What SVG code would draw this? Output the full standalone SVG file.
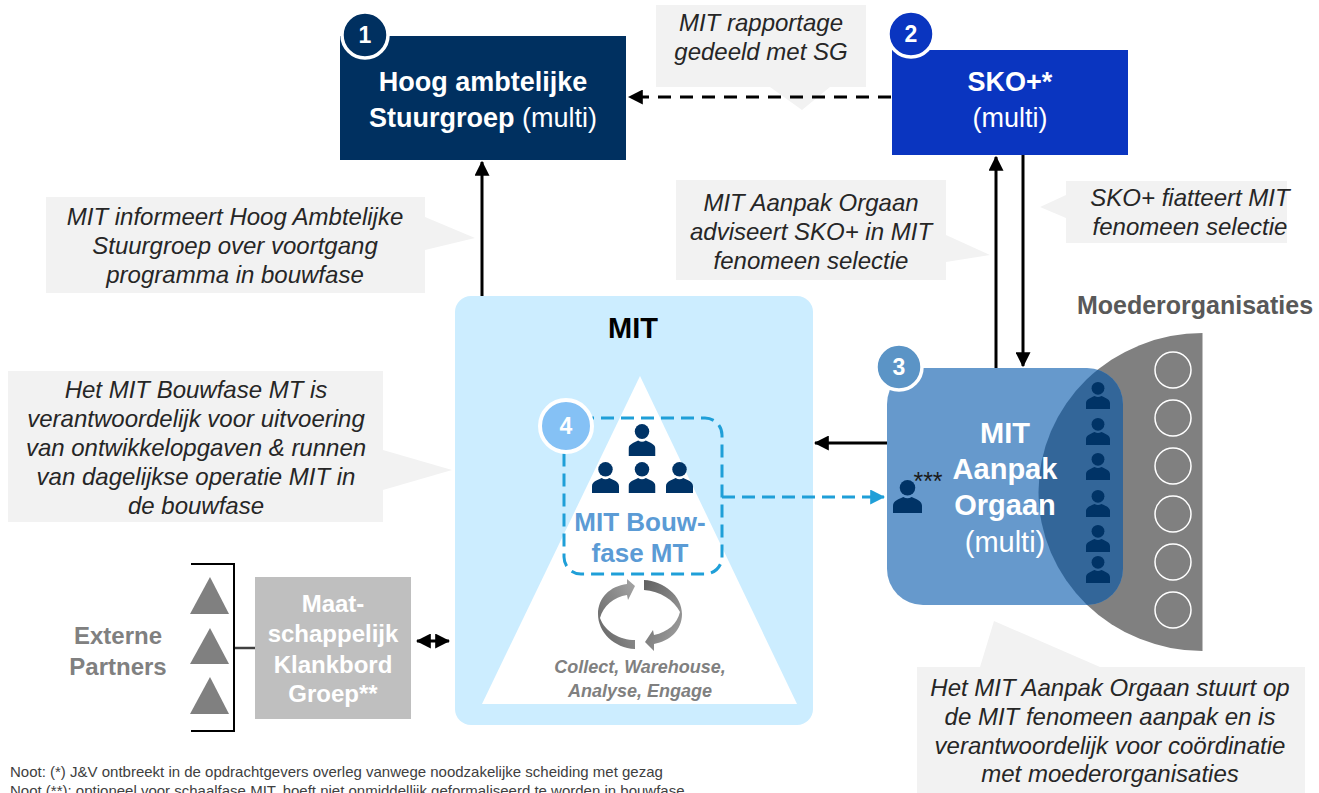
<svg xmlns="http://www.w3.org/2000/svg" xmlns:xlink="http://www.w3.org/1999/xlink" width="1319" height="793" viewBox="0 0 1319 793">
<style>
text{font-family:"Liberation Sans",Arial,sans-serif;text-anchor:middle}
.c{fill:#f2f2f2}
.ct{font-size:24px;font-style:italic;fill:#262626}
.w{fill:#fff;font-size:27px}
.b{font-weight:bold}
.ln{fill:none;stroke:#000;stroke-width:3}
.badge{stroke:#fff;stroke-width:3.5}
.bt{fill:#fff;font-size:23px;font-weight:bold}
.wc{fill:none;stroke:#fff;stroke-width:1.5}
.note{font-size:15px;fill:#404040;text-anchor:start}
.tri{fill:#808080}
</style>
<defs>
<marker id="ah" markerWidth="5" markerHeight="5" refX="4.6" refY="2.5" orient="auto" markerUnits="strokeWidth"><path d="M0 0L5 2.5L0 5z" fill="#000"/></marker>
<marker id="as" markerWidth="5" markerHeight="5" refX="0.4" refY="2.5" orient="auto" markerUnits="strokeWidth"><path d="M5 0L0 2.5L5 5z" fill="#000"/></marker>
<marker id="ab" markerWidth="5" markerHeight="5" refX="4.6" refY="2.5" orient="auto" markerUnits="strokeWidth"><path d="M0 0L5 2.5L0 5z" fill="#1f9fd8"/></marker>
<symbol id="p" viewBox="0 0 28 32" preserveAspectRatio="none"><circle cx="14" cy="7.5" r="7.5" fill="#003366"/><path d="M0 32V25C0 20 6 18.500 10 16.500Q14 19 18 16.500C22 18.500 28 20 28 25V32z" fill="#003366"/></symbol>
<clipPath id="ov"><rect x="887" y="368" width="236" height="237" rx="36"/></clipPath>
<linearGradient id="g1" x1="0" y1="1" x2="1" y2="0"><stop offset="0" stop-color="#606060"/><stop offset="1" stop-color="#a6a6a6"/></linearGradient>
<linearGradient id="g2" x1="0" y1="0" x2="1" y2="1"><stop offset="0" stop-color="#606060"/><stop offset="1" stop-color="#a6a6a6"/></linearGradient>
</defs>
<rect width="1319" height="793" fill="#fff"/>

<g id="callouts">
<path class="c" d="M656 5H866V87H830L802 110L770 87H656z"/>
<text class="ct" x="761" y="31">MIT rapportage</text><text class="ct" x="761" y="60">gedeeld met SG</text>
<path class="c" d="M46 197H425V217L475 238L425 250V293H46z"/>
<text class="ct" x="235" y="225">MIT informeert Hoog Ambtelijke</text><text class="ct" x="235" y="254">Stuurgroep over voortgang</text><text class="ct" x="235" y="283">programma in bouwfase</text>
<path class="c" d="M676 180H946V235L990 255L946 262V280H676z"/>
<text class="ct" x="811" y="211">MIT Aanpak Orgaan</text><text class="ct" x="811" y="240">adviseert SKO+ in MIT</text><text class="ct" x="811" y="269">fenomeen selectie</text>
<path class="c" d="M1066 181H1287V243H1066V218L1040 207L1066 195z"/>
<text class="ct" x="1190" y="206">SKO+ fiatteert MIT</text><text class="ct" x="1190" y="235">fenomeen selectie</text>
<path class="c" d="M8 371H383V450L452 470L383 490V522H8z"/>
<text class="ct" x="196" y="398">Het MIT Bouwfase MT is</text><text class="ct" x="196" y="427">verantwoordelijk voor uitvoering</text><text class="ct" x="196" y="456">van ontwikkelopgaven &amp; runnen</text><text class="ct" x="196" y="485">van dagelijkse operatie MIT in</text><text class="ct" x="196" y="514">de bouwfase</text>
<path class="c" d="M917 667H980L994 621L1100 667H1305V793H917z"/>
<text class="ct" x="1110" y="696">Het MIT Aanpak Orgaan stuurt op</text><text class="ct" x="1110" y="725">de MIT fenomeen aanpak en is</text><text class="ct" x="1110" y="754">verantwoordelijk voor coördinatie</text><text class="ct" x="1110" y="782">met moederorganisaties</text>
</g>

<g id="node-stuurgroep">
<rect x="340" y="36" width="286" height="124" fill="#003060"/>
<text class="w b" x="483" y="91">Hoog ambtelijke</text>
<text class="w" x="483" y="127"><tspan class="b">Stuurgroep</tspan> (multi)</text>
<circle class="badge" cx="365" cy="35" r="23" fill="#003060"/><text class="bt" x="365" y="43">1</text>
</g>
<g id="node-sko">
<rect x="892" y="50" width="236" height="105" fill="#0a35c0"/>
<text class="w b" x="1010" y="91">SKO+*</text><text class="w" x="1010" y="127">(multi)</text>
<circle class="badge" cx="911" cy="34" r="23" fill="#0a35c0"/><text class="bt" x="911" y="42">2</text>
</g>

<g id="node-moederorganisaties">
<text x="1195" y="314" class="b" font-size="25" fill="#595959">Moederorganisaties</text>
<path d="M1202.500 333A164 159 0 0 0 1202.500 651z" fill="#808080"/>
<circle class="wc" cx="1173" cy="370" r="18"/><circle class="wc" cx="1173" cy="418" r="18"/><circle class="wc" cx="1173" cy="466" r="18"/><circle class="wc" cx="1173" cy="514" r="18"/><circle class="wc" cx="1173" cy="562" r="18"/><circle class="wc" cx="1173" cy="610" r="18"/>
</g>

<g id="node-aanpak">
<rect x="887" y="368" width="236" height="237" rx="36" fill="#6699cc"/>
<ellipse cx="1202.500" cy="492" rx="164" ry="159" fill="#336699" clip-path="url(#ov)"/>
<text class="w b" font-size="29" style="font-size:29px" x="1005" y="443">MIT</text>
<text class="w b" style="font-size:29px" x="1005" y="479">Aanpak</text>
<text class="w b" style="font-size:29px" x="1005" y="515">Orgaan</text>
<text class="w" style="font-size:29px" x="1005" y="552">(multi)</text>
<use href="#p" x="1086" y="382" width="24" height="27"/><use href="#p" x="1086" y="418" width="24" height="27"/><use href="#p" x="1086" y="453" width="24" height="27"/><use href="#p" x="1086" y="490" width="24" height="27"/><use href="#p" x="1086" y="525" width="24" height="27"/><use href="#p" x="1086" y="556" width="24" height="27"/>
<use href="#p" x="893" y="480" width="29" height="33"/>
<text x="928" y="490" font-size="25" fill="#1a1a1a">***</text>
<circle class="badge" cx="899" cy="367" r="23" fill="#5b94c6"/><text class="bt" x="899" y="375">3</text>
</g>

<g id="node-mit">
<rect x="455" y="296" width="358" height="429" rx="16" fill="#ccedff"/>
<text x="633" y="338" class="b" font-size="29" fill="#000">MIT</text>
<path d="M640 376L797 704H482z" fill="#fff"/>
<use href="#p" x="628.500" y="424" width="27" height="32"/><use href="#p" x="592" y="462" width="27" height="31"/><use href="#p" x="628.500" y="462" width="27" height="31"/><use href="#p" x="666" y="462" width="27" height="31"/>
</g>
<g id="node-bouwfase">
<rect x="564" y="418" width="158" height="156" rx="17" fill="none" stroke="#1f9fd8" stroke-width="3" stroke-dasharray="13 7"/>
<text x="640" y="531" class="b" font-size="26" fill="#5b9bd5">MIT Bouw-</text><text x="640" y="562" class="b" font-size="26" fill="#5b9bd5">fase MT</text>
<circle cx="566" cy="426" r="26" fill="#85c1f5" stroke="#fff" stroke-width="4"/><text class="bt" x="566" y="434">4</text>
<path d="M635 649L635 640C620 640 605 632 600 618C603 606 614 597 627 595L628 600L635 586L627 579L627 584C610 586 598 598 598 614C598 632 614 648 635 649z" fill="url(#g1)"/>
<path d="M644 580V590C660 591 674 600 680 612C677 624 668 632 654 635L653 630L645 642L654 651L654 644C670 641 682 630 682 614C682 596 664 581 644 580z" fill="url(#g2)"/>
<text x="640" y="673" class="b" font-size="18" font-style="italic" fill="#808080">Collect, Warehouse,</text>
<text x="640" y="697" class="b" font-size="18" font-style="italic" fill="#808080">Analyse, Engage</text>
</g>

<g id="node-klankbord">
<rect x="255" y="577" width="156" height="142" fill="#bfbfbf"/>
<text x="333" y="612" class="b" font-size="24" fill="#fff">Maat-</text><text x="333" y="642" class="b" font-size="24" fill="#fff">schappelijk</text><text x="333" y="673" class="b" font-size="24" fill="#fff">Klankbord</text><text x="333" y="702" class="b" font-size="24" fill="#fff">Groep**</text>
</g>
<g id="node-partners">
<text x="118" y="644" class="b" font-size="24" fill="#808080">Externe</text><text x="118" y="675" class="b" font-size="24" fill="#808080">Partners</text>
<path class="tri" d="M210 577L229 614H190z"/><path class="tri" d="M210 628L229 664H190z"/><path class="tri" d="M210 677L229 714H190z"/>
</g>

<g id="connectors">
<path class="ln" d="M891 97H629" stroke-dasharray="13 9" marker-end="url(#ah)"/>
<path class="ln" d="M482 296V162" marker-end="url(#ah)"/>
<path class="ln" d="M996 368V157" marker-end="url(#ah)"/>
<path class="ln" d="M1023 155V366" marker-end="url(#ah)"/>
<path class="ln" d="M887 443H815" marker-end="url(#ah)"/>
<path d="M722 497H884" fill="none" stroke="#1f9fd8" stroke-width="3" stroke-dasharray="13 7" marker-end="url(#ab)"/>
<path class="ln" d="M417 641H449" marker-start="url(#as)" marker-end="url(#ah)"/>
<path d="M191 564H234V731H191" fill="none" stroke="#000" stroke-width="2"/>
<path d="M235 648H255" fill="none" stroke="#404040" stroke-width="2.500"/>
</g>

<g id="notes">
<text class="note" x="10" y="777">Noot: (*) J&amp;V ontbreekt in de opdrachtgevers overleg vanwege noodzakelijke scheiding met gezag</text>
<text class="note" x="10" y="796">Noot (**): optioneel voor schaalfase MIT, hoeft niet onmiddellijk geformaliseerd te worden in bouwfase</text>
</g>
</svg>
